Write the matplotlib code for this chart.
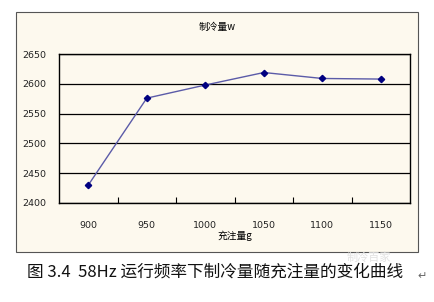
import matplotlib.pyplot as plt
from matplotlib.patches import Rectangle

plt.rcParams['font.family'] = ['Noto Sans CJK SC', 'DejaVu Sans']

charge = ['900', '950', '1000', '1050', '1100', '1150']
capacity = [2430, 2576, 2598, 2619, 2609, 2608]
y_ticks = [2400, 2450, 2500, 2550, 2600, 2650]

fig = plt.figure(figsize=(4.34, 3.02), dpi=100)

# chart area box (cream background)
fig.patches.append(Rectangle((0.037, 0.166), 0.926, 0.794, transform=fig.transFigure,
                             facecolor='#FDF9EE', edgecolor='#555555', linewidth=0.8, zorder=-5))

ax = fig.add_axes([0.136, 0.328, 0.809, 0.493])
ax.set_facecolor('#FDF9EE')
x = range(len(charge))
ax.plot(x, capacity, color='#5B5BA8', linewidth=1.0, marker='D', markersize=3.2,
        markerfacecolor='#000080', markeredgecolor='#000080')
ax.set_xlim(-0.5, len(charge) - 0.5)
ax.set_ylim(2400, 2650)
ax.set_yticks(y_ticks)
ax.yaxis.grid(True, color='black', linewidth=0.9)
ax.set_axisbelow(True)
ax.set_xticks([i + 0.5 for i in range(len(charge) - 1)], minor=False)
ax.set_xticklabels([])
ax.set_xticks(list(x), minor=True)
ax.set_xticklabels(charge, minor=True, fontsize=6.8, family='DejaVu Sans', color='#222222')
ax.tick_params(axis='x', which='major', direction='in', length=4, width=0.8)
ax.tick_params(axis='x', which='minor', length=0, pad=13)
ax.tick_params(axis='y', length=0, labelsize=6.8, pad=9, labelcolor='#222222')
for lab in ax.get_yticklabels():
    lab.set_family('DejaVu Sans')
for s in ax.spines.values():
    s.set_color('black')
    s.set_linewidth(1.0)

fig.text(0.5, 0.91, '制冷量w', ha='center', va='center', fontsize=7)
fig.text(0.54, 0.218, '充注量g', ha='center', va='center', fontsize=7)

fig.text(0.85, 0.148, '制冷百家', ha='center', va='center', fontsize=8, color='#E2E2E2')
fig.text(0.062, 0.098, '图 3.4  58Hz 运行频率下制冷量随充注量的变化曲线', ha='left', va='center',
         fontsize=12, color='#111111')
fig.text(0.972, 0.085, '↵', ha='center', va='center', fontsize=8, color='#666666',
         family='DejaVu Sans')

fig.savefig('out.png', dpi=100, facecolor='white')
